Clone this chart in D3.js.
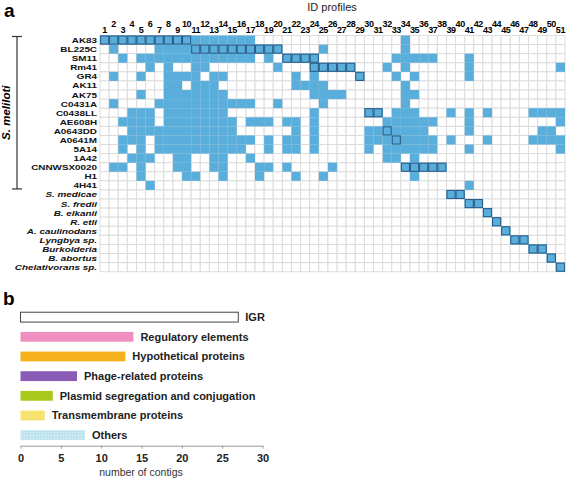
<!DOCTYPE html>
<html><head><meta charset="utf-8">
<script src="https://cdn.jsdelivr.net/npm/d3@7"></script>
<style>
html,body{margin:0;padding:0;background:#fff;}
svg{display:block;font-family:"Liberation Sans",Arial,sans-serif;}
</style></head>
<body><svg id="chart" width="567" height="481"></svg>
<script>
// ---------------- DATA ----------------
const colLabels = ["1","2","3","4","5","6","7","8","9","10","11","12","13","14","15","16","17","18","19","20",
  "21","22","23","24","25","26","27","28","29","30","31","32","33","34","35","36","37","38","39","40",
  "41","42","43","44","45","46","47","48","49","50","51"];
const strains = ["AK83","BL225C","SM11","Rm41","GR4","AK11","AK75","C0431A","C0438LL","AE608H","A0643DD",
  "A0641M","5A14","1A42","CNNWSX0020","H1","4H41"];
const otherSpecies = ["S. medicae","S. fredii","B. elkanii","R. etli","A. caulinodans","Lyngbya sp.",
  "Burkolderia","B. abortus","Chelativorans sp."];
// ID profiles present in each genome (column numbers), one list per row
const presence = [
  [1,2,3,4,5,6,7,8,9,10,11,12,13,14,15,16,17,34],
  [2,7,8,9,10,11,12,13,14,15,16,17,18,19,20,25,34],
  [3,5,6,7,8,9,10,11,12,13,14,15,16,17,19,21,22,23,24,33,34,35,36,37,41],
  [6,8,11,12,20,24,25,26,27,28,32,34,41,51],
  [2,5,8,9,10,11,13,14,22,24,29,33,35,41],
  [8,9,11,12,13,22,23,24,25,34],
  [5,8,9,10,11,12,13,14,24,25,26,27,34,35],
  [2,7,8,9,10,11,12,13,14,15,16,17,20,25,34],
  [4,5,6,8,9,10,11,12,13,14,24,30,31,33,34,35,39,41,43,48,49,50,51],
  [3,4,5,6,8,9,10,11,12,13,14,15,17,18,19,21,22,24,32,33,34,35,36,37,41,51],
  [4,5,6,7,8,9,10,11,12,13,14,15,22,24,30,31,32,33,34,35,36,41,49,50],
  [3,4,5,7,8,9,10,11,12,13,14,15,16,17,19,21,22,24,30,31,32,33,34,35,36,37,39,43,48,49,50,51],
  [3,5,7,8,9,10,11,12,13,14,15,16,19,21,22,24,30,32,33,34,35,36,37,41,51],
  [4,5,6,9,10,13,14,17,32,33,35],
  [2,3,5,9,10,13,14,18,19,21,26,34,35,36,37,38],
  [5,10,11,14,18,22,25,35],
  [6,41],
  [39,40],
  [41,42],
  [43],
  [44],
  [45],
  [46,47],
  [48,49],
  [50],
  [51]
];
// ID profile first described in each genome (outlined cells)
const firstFound = [
  [1,2,3,4,5,6,7,8,9,10],
  [11,12,13,14,15,16,17,18,19,20],
  [21,22,23,24],
  [24,25,26,27,28],
  [29],[],[],[],
  [30,31],[],
  [32],
  [33],[],[],
  [34,35,36,37,38],[],[],
  [39,40],[41,42],[43],[44],[45],[46,47],[48,49],[50],[51]
];
const categories = ["IGR","Regulatory elements","Hypothetical proteins","Phage-related proteins",
  "Plasmid segregation and conjugation","Transmembrane proteins","Others"];
const contigCounts = [27,14,13,7,4,3,8];
const categoryColors = ["#ffffff","#ef8fc1","#f6b21c","#8b5cb7","#a9c81c","#f6e26c","#c3e5f0"];
const xTicks = [0,5,10,15,20,25,30];

// ---------------- DRAW ----------------
const svg = d3.select("#chart");
const rowLabels = strains.concat(otherSpecies);
const cellBlue = "#5aaedb", gridGray = "#dcdcdc", outline = "#2c5f8a";

const x = d3.scaleBand().domain(colLabels).range([100, 565]);
const y = d3.scaleBand().domain(rowLabels).range([35.5, 271.7]);

// panel letters
svg.append("text").attr("x", 4).attr("y", 17).attr("font-size", 19).attr("font-weight", "bold").text("a");
svg.append("text").attr("x", 3).attr("y", 305).attr("font-size", 19).attr("font-weight", "bold").text("b");

// title
svg.append("text").attr("x", 332).attr("y", 11).attr("text-anchor", "middle")
  .attr("font-size", 11).attr("fill", "#222").text("ID profiles");

// column labels (alternating heights)
svg.append("g").selectAll("text").data(colLabels).join("text")
  .attr("x", d => x(d) + x.bandwidth() / 2)
  .attr("y", (d, i) => i % 2 === 0 ? 33 : 26.5)
  .attr("text-anchor", "middle").attr("font-size", 9).attr("font-weight", "bold")
  .attr("letter-spacing", -0.4).text(d => d);

// background grid
const cells = [];
rowLabels.forEach(r => colLabels.forEach(c => cells.push({r, c})));
svg.append("g").selectAll("rect").data(cells).join("rect")
  .attr("x", d => x(d.c)).attr("y", d => y(d.r))
  .attr("width", x.bandwidth()).attr("height", y.bandwidth())
  .attr("fill", "#fff").attr("stroke", gridGray).attr("stroke-width", 1);

// filled cells
const filled = [];
presence.forEach((cols, i) => cols.forEach(c => filled.push({r: rowLabels[i], c: String(c)})));
svg.append("g").selectAll("rect").data(filled).join("rect")
  .attr("x", d => x(d.c)).attr("y", d => y(d.r))
  .attr("width", x.bandwidth()).attr("height", y.bandwidth())
  .attr("fill", cellBlue);

// outlined cells
const outlined = [];
firstFound.forEach((cols, i) => cols.forEach(c => outlined.push({r: rowLabels[i], c: String(c)})));
svg.append("g").selectAll("rect").data(outlined).join("rect")
  .attr("x", d => x(d.c) + 0.5).attr("y", d => y(d.r) + 0.5)
  .attr("width", x.bandwidth() - 1).attr("height", y.bandwidth() - 1)
  .attr("fill", cellBlue).attr("stroke", outline).attr("stroke-width", 1.1);

// row labels (horizontally stretched so they stay within their row height)
svg.append("g").selectAll("text").data(rowLabels).join("text")
  .attr("transform", d => `translate(97,${y(d) + y.bandwidth() / 2 + 3}) scale(1.22,1)`)
  .attr("text-anchor", "end").attr("font-size", 8.1).attr("font-weight", "bold")
  .attr("font-style", (d, i) => i >= strains.length ? "italic" : "normal")
  .attr("fill", "#111").text(d => d);

// bracket for S. meliloti
const bTop = y(strains[0]) + 1, bBot = y(strains[strains.length - 1]) + y.bandwidth() - 1;
const br = svg.append("g").attr("stroke", "#333").attr("stroke-width", 1.2);
br.append("line").attr("x1", 17).attr("x2", 17).attr("y1", bTop).attr("y2", bBot);
br.append("line").attr("x1", 12).attr("x2", 22).attr("y1", bTop).attr("y2", bTop);
br.append("line").attr("x1", 12).attr("x2", 22).attr("y1", bBot).attr("y2", bBot);
svg.append("text").attr("transform", `translate(10,${(bTop + bBot) / 2}) rotate(-90)`)
  .attr("text-anchor", "middle").attr("font-size", 11.5).attr("font-weight", "bold")
  .attr("font-style", "italic").text("S. meliloti");

// ---------------- PANEL b ----------------
const bx = d3.scaleLinear().domain([0, 30]).range([20.5, 262.5]);
const by = d3.scaleBand().domain(categories).range([307.3, 445]).paddingInner(0.5).paddingOuter(0.25);

const defs = svg.append("defs");
const pat = defs.append("pattern").attr("id", "dots").attr("width", 3).attr("height", 3)
  .attr("patternUnits", "userSpaceOnUse");
pat.append("rect").attr("width", 3).attr("height", 3).attr("fill", "#bfe3ef");
pat.append("rect").attr("width", 1).attr("height", 1).attr("fill", "#e6f5fa");
const pat2 = defs.append("pattern").attr("id", "dotsY").attr("width", 3).attr("height", 3)
  .attr("patternUnits", "userSpaceOnUse");
pat2.append("rect").attr("width", 3).attr("height", 3).attr("fill", "#f5e068");
pat2.append("rect").attr("width", 1).attr("height", 1).attr("fill", "#faf0a8");

const barData = categories.map((c, i) => ({c, v: contigCounts[i], col: categoryColors[i]}));
svg.append("g").selectAll("rect").data(barData).join("rect")
  .attr("x", bx(0)).attr("y", d => by(d.c))
  .attr("width", d => bx(d.v) - bx(0)).attr("height", by.bandwidth())
  .attr("fill", (d, i) => i === 6 ? "url(#dots)" : i === 5 ? "url(#dotsY)" : d.col)
  .attr("stroke", (d, i) => i === 0 ? "#444" : "none").attr("stroke-width", 1);

svg.append("g").selectAll("text").data(barData).join("text")
  .attr("x", d => bx(d.v) + 7).attr("y", d => by(d.c) + by.bandwidth() / 2 + 4)
  .attr("font-size", 11).attr("font-weight", "bold").attr("fill", "#222").text(d => d.c);

const axis = svg.append("g").attr("transform", "translate(0,445.7)")
  .call(d3.axisBottom(bx).tickValues(xTicks).tickSize(3).tickSizeOuter(0));
axis.select(".domain").attr("stroke", "#999");
axis.selectAll(".tick line").attr("stroke", "#999");
axis.selectAll(".tick text").attr("font-size", 11).attr("font-weight", "bold").attr("fill", "#222")
  .attr("font-family", "Liberation Sans, Arial, sans-serif").attr("dy", "0.9em");

svg.append("text").attr("x", 141).attr("y", 476).attr("text-anchor", "middle")
  .attr("font-size", 10.5).attr("fill", "#333").text("number of contigs");
</script></body></html>
